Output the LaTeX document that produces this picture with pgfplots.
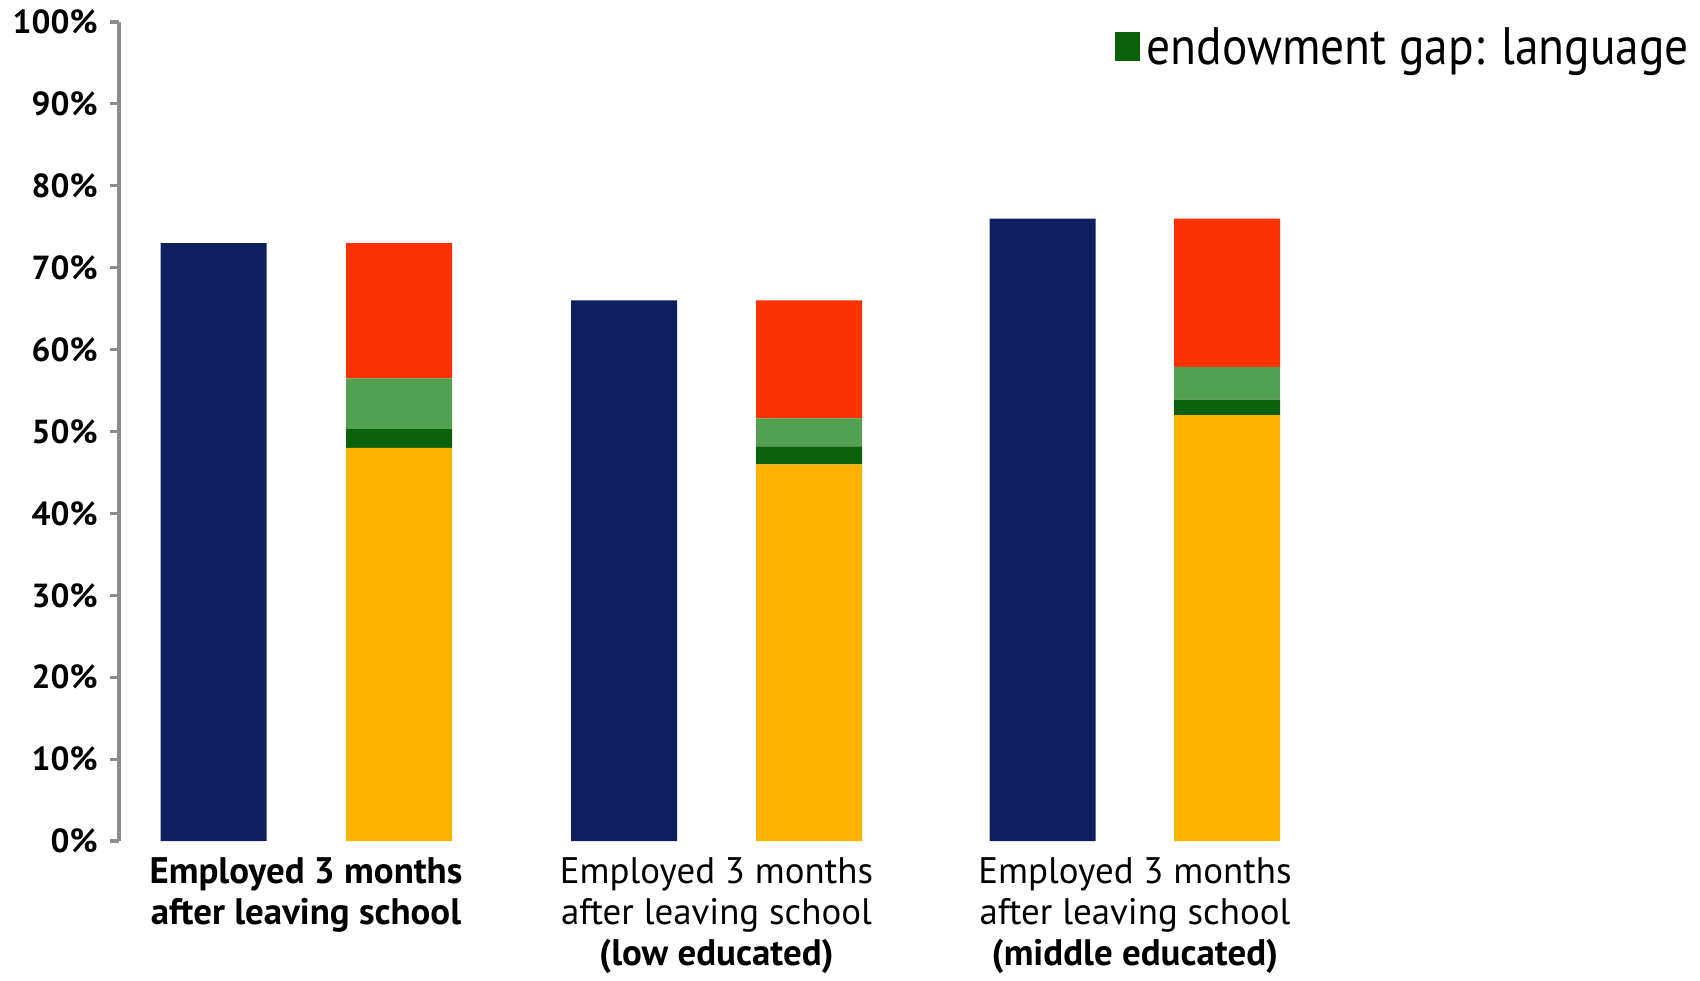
\documentclass[border=0pt]{standalone}
\usepackage{pgfplots}
\pgfplotsset{compat=1.18}
\usepackage{fontspec}
\setmainfont{PT Sans}
\newfontfamily\legfont[FakeStretch=0.9]{PT Sans}
\definecolor{navy}{RGB}{14,31,95}
\definecolor{orng}{RGB}{255,179,0}
\definecolor{redgap}{RGB}{252,51,0}
\definecolor{lgreen}{RGB}{82,161,80}
\definecolor{dgreen}{RGB}{10,97,10}
\definecolor{axgray}{RGB}{140,140,140}
\begin{document}
\begin{tikzpicture}
\begin{axis}[
  at={(1.19cm,1.39cm)}, anchor=south west,
  scale only axis, width=15.81cm, height=8.19cm,
  xmin=119, xmax=1700, ymin=0, ymax=100,
  ybar stacked, bar width=1.06cm,
  axis lines*=left,
  x axis line style={draw=none},
  y axis line style={draw=axgray, line width=0.9pt},
  ytick={0,10,...,100},
  yticklabel={\pgfmathprintnumber{\tick}\%},
  /pgf/number format/assume math mode=true,
  yticklabel style={font=\bfseries\fontsize{9.5}{11}\selectfont},
  tick align=outside, major tick length=0.09cm,
  ytick style={draw=axgray, line width=0.9pt},
  xtick={306,716.5,1135},
  xtick style={draw=none},
  xticklabels={{\bfseries Employed 3 months\\\bfseries after leaving school},
               {Employed 3 months\\after leaving school\\\bfseries (low educated)},
               {Employed 3 months\\after leaving school\\\bfseries (middle educated)}},
  xticklabel style={align=center, font=\fontsize{10.5}{11.7}\selectfont, yshift=0.05cm},
  legend image code/.code={\fill[#1] (0cm,-0.12cm) rectangle (0.25cm,0.17cm);},
  legend style={at={(axis description cs:0.6294,0.932)}, anchor=south west,
     draw=none, fill=none, inner sep=0pt, row sep=10pt,
     font=\legfont\fontsize{15}{18}\selectfont},
  legend cell align=left,
]
\addplot[fill=navy, draw=none, forget plot] coordinates {(213.5,73) (399,0) (624,66) (809,0) (1042.5,76) (1227,0)};
\addplot[fill=orng, draw=none, forget plot] coordinates {(213.5,0) (399,48) (624,0) (809,46) (1042.5,0) (1227,52)};
\addplot[fill=dgreen, draw=none, forget plot] coordinates {(213.5,0) (399,2.3) (624,0) (809,2.2) (1042.5,0) (1227,1.9)};
\addplot[fill=lgreen, draw=none, forget plot] coordinates {(213.5,0) (399,6.2) (624,0) (809,3.4) (1042.5,0) (1227,4.0)};
\addplot[fill=redgap, draw=none, forget plot] coordinates {(213.5,0) (399,16.5) (624,0) (809,14.4) (1042.5,0) (1227,18.1)};
\addlegendimage{fill=navy, draw=none}
\addlegendentry{natives}
\addlegendimage{fill=orng, draw=none}
\addlegendentry{migrants}
\addlegendimage{fill=redgap, draw=none}
\addlegendentry{unexplained gap}
\addlegendimage{fill=lgreen, draw=none}
\addlegendentry{endowment gap: other}
\addlegendimage{fill=dgreen, draw=none}
\addlegendentry{endowment gap: language}
\end{axis}
\pgfresetboundingbox
\useasboundingbox (0,0) rectangle (17cm,9.8cm);
\end{tikzpicture}
\end{document}
